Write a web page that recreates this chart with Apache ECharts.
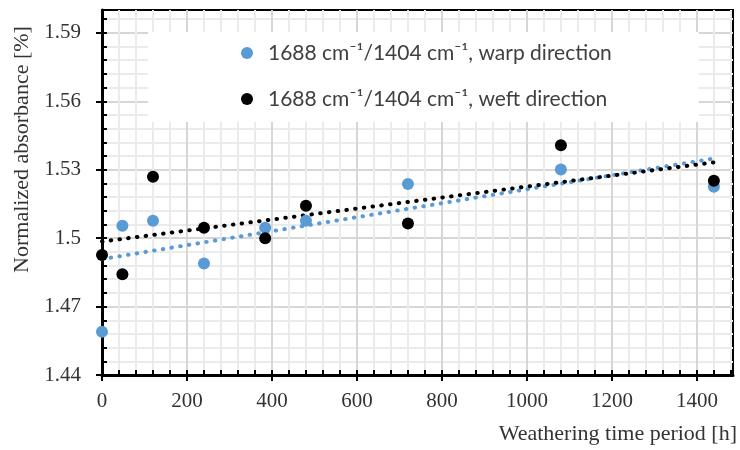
<!DOCTYPE html>
<html><head><meta charset="utf-8">
<script src="https://cdn.jsdelivr.net/npm/echarts@6/dist/echarts.min.js"></script>
<style>html,body{margin:0;padding:0;background:#fff}#c{width:740px;height:450px}</style>
</head><body><div id="c"></div>
<script>
const hours = [0, 48, 120, 240, 384, 480, 720, 1080, 1440];
const warp = [1.459, 1.5054, 1.5076, 1.4889, 1.5045, 1.5076, 1.5237, 1.5301, 1.5225];
const weft = [1.4926, 1.4842, 1.5269, 1.5045, 1.4999, 1.5142, 1.5064, 1.5407, 1.5251];
const trendX = [0, 1440];
const warpTrend = [1.4908, 1.5349];
const weftTrend = [1.4985, 1.5332];
const xMajorTicks = [0, 200, 400, 600, 800, 1000, 1200, 1400];
const yMajorTicks = [1.44, 1.47, 1.50, 1.53, 1.56, 1.59];
const warpName = '1688 cm⁻¹/1404 cm⁻¹, warp direction';
const weftName = '1688 cm⁻¹/1404 cm⁻¹, weft direction';
const xName = 'Weathering time period [h]';
const yName = 'Normalized absorbance [%]';

const X_MIN = 0, X_MAX = 1485, Y_MIN = 1.44, Y_MAX = 1.60;
const BLUE = '#5b9bd5';
const SERIF = 'Liberation Serif';

function ax(base, extra) {
  return Object.assign({
    type: 'value', axisLine: {show: false, onZero: false}, axisTick: {show: false},
    axisLabel: {show: false}, splitLine: {show: false}
  }, base, extra);
}
const xb = {min: X_MIN, max: X_MAX, position: 'bottom'};
const yb = {min: Y_MIN, max: Y_MAX, position: 'left'};
const minorGrid = {show: true, showMinLine: false, showMaxLine: false, lineStyle: {color: '#ebebeb', width: 2}};
const majorGrid = {show: true, showMinLine: false, showMaxLine: false, lineStyle: {color: '#d6d6d6', width: 2}};
const axLine = {show: true, onZero: false, lineStyle: {color: '#000', width: 3}};
const labelStyle = {fontFamily: SERIF, fontSize: 21, color: '#333', formatter: v => String(+v)};

const chart = echarts.init(document.getElementById('c'));
chart.setOption({
  animation: false,
  backgroundColor: '#fff',
  grid: {left: 102, top: 10, right: 7, bottom: 75, show: true, borderColor: '#000', borderWidth: 2,
         containLabel: false, outerBoundsMode: 'none'},
  xAxis: [
    ax(xb, {interval: 40, z: 0, splitLine: minorGrid}),
    ax(xb, {interval: 200, z: 0, splitLine: majorGrid}),
    ax(xb, {interval: 40, z: 1, axisLine: axLine,
      axisTick: {show: true, inside: true, length: 5, lineStyle: {color: '#000', width: 2}}}),
    ax(xb, {interval: 200, z: 1,
      axisTick: {show: true, inside: false, length: 6, customValues: xMajorTicks, lineStyle: {color: '#000', width: 2}},
      axisLabel: Object.assign({show: true, margin: 16, customValues: xMajorTicks}, labelStyle),
      name: xName, nameLocation: 'end', nameGap: 4,
      nameTextStyle: {fontFamily: SERIF, fontSize: 22, color: '#333', align: 'right', verticalAlign: 'top', padding: [48, 0, 0, 0]}})
  ],
  yAxis: [
    ax(yb, {interval: 0.006, z: 0, splitLine: minorGrid}),
    ax(yb, {interval: 0.03, z: 0, splitLine: majorGrid}),
    ax(yb, {interval: 0.006, z: 1, axisLine: axLine,
      axisTick: {show: true, inside: true, length: 5, lineStyle: {color: '#000', width: 2}}}),
    ax(yb, {interval: 0.03, z: 1,
      axisTick: {show: true, inside: false, length: 6, customValues: yMajorTicks, lineStyle: {color: '#000', width: 2}},
      axisLabel: Object.assign({show: true, margin: 21, customValues: yMajorTicks}, labelStyle),
      name: yName, nameLocation: 'middle', nameGap: 62, nameRotate: 90,
      nameTextStyle: {fontFamily: SERIF, fontSize: 22, color: '#333', padding: [0, 0, 0, 86]}})
  ],
  legend: {
    data: [{name: warpName, icon: 'circle'}, {name: weftName, icon: 'circle'}],
    orient: 'vertical', left: 148, top: 32, itemWidth: 12, itemHeight: 12, itemGap: 24,
    padding: [10, 87, 12, 93], backgroundColor: '#fff', z: 4, selectedMode: false,
    textStyle: {fontFamily: 'Lato', fontSize: 21, color: '#404040', lineHeight: 22, padding: [0, 0, 0, 10]}
  },
  series: [
    {type: 'line', name: 'warpTrend', xAxisIndex: 3, yAxisIndex: 3, symbol: 'none', silent: true, z: 2,
     data: trendX.map((x, i) => [x, warpTrend[i]]),
     lineStyle: {color: BLUE, width: 4, type: [0.5, 8.3], cap: 'round'}},
    {type: 'line', name: 'weftTrend', xAxisIndex: 3, yAxisIndex: 3, symbol: 'none', silent: true, z: 2,
     data: trendX.map((x, i) => [x, weftTrend[i]]),
     lineStyle: {color: '#000', width: 4, type: [0.5, 8.3], cap: 'round'}},
    {type: 'scatter', name: warpName, xAxisIndex: 3, yAxisIndex: 3, symbolSize: 12, z: 3,
     itemStyle: {color: BLUE, opacity: 1}, data: hours.map((h, i) => [h, warp[i]])},
    {type: 'scatter', name: weftName, xAxisIndex: 3, yAxisIndex: 3, symbolSize: 12, z: 3,
     itemStyle: {color: '#000', opacity: 1}, data: hours.map((h, i) => [h, weft[i]])}
  ]
});
</script></body></html>
